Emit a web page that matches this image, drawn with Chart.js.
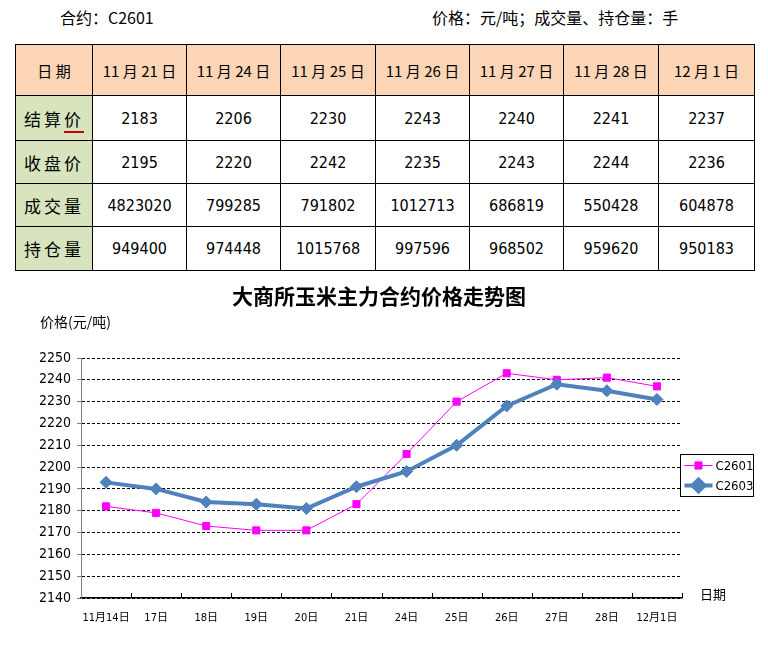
<!DOCTYPE html>
<html>
<head>
<meta charset="utf-8">
<script src="https://cdn.jsdelivr.net/npm/chart.js@4/dist/chart.umd.min.js"></script>
<style>
  html, body { margin: 0; padding: 0; background: #fff; }
  body { width: 768px; height: 652px; position: relative; overflow: hidden;
         font-family: "Liberation Sans Narrow", "DejaVu Sans Condensed", "Noto Sans CJK SC", sans-serif; color: #000; }
  .top { position: absolute; top: 5px; font-size: 16px; font-family: "Noto Sans CJK SC", sans-serif; white-space: nowrap; }
  table { position: absolute; left: 15px; top: 44px; border-collapse: collapse; table-layout: fixed; width: 739px; }
  td { border: 1px solid #000; text-align: center; padding: 0; font-size: 16px; white-space: nowrap; }
  tr.head td { background: #FBD5B5; font-family: "Noto Sans CJK SC", sans-serif; font-size: 15px; }
  td.lab { background: #D7E4BD; font-family: "Noto Sans CJK SC", sans-serif; font-size: 17px; letter-spacing: 3px; }
  .red { border-bottom: 2px solid #d00000; }
  #wrap { position: absolute; left: 0; top: 280px; width: 768px; height: 372px; }
</style>
</head>
<body>
<div class="top" style="left:60px;">合约：C2601</div>
<div class="top" style="left:432px;">价格：元/吨；成交量、持仓量：手</div>
<table id="tbl"></table>
<div id="wrap"><canvas id="c" width="768" height="372"></canvas></div>
<script>
// ---- table data ----
const tableDates = ['11月21日', '11月24日', '11月25日', '11月26日', '11月27日', '11月28日', '12月1日'];
const settlePrice = [2183, 2206, 2230, 2243, 2240, 2241, 2237];
const closePrice = [2195, 2220, 2242, 2235, 2243, 2244, 2236];
const volume = [4823020, 799285, 791802, 1012713, 686819, 550428, 604878];
const openInterest = [949400, 974448, 1015768, 997596, 968502, 959620, 950183];

// ---- chart data ----
const chartLabels = ['11月14日', '17日', '18日', '19日', '20日', '21日', '24日', '25日', '26日', '27日', '28日', '12月1日'];
const c2601 = [2182, 2179, 2173, 2171, 2171, 2183, 2206, 2230, 2243, 2240, 2241, 2237];
const c2603 = [2193, 2190, 2184, 2183, 2181, 2191, 2198, 2210, 2228, 2238, 2235, 2231];
const yMin = 2140, yMax = 2250, yStep = 10;

// build table
(function () {
  const tbl = document.getElementById('tbl');
  const widths = [77, 94, 94, 95, 94, 94, 95, 96];
  const cg = document.createElement('colgroup');
  widths.forEach(w => { const c = document.createElement('col'); c.style.width = w + 'px'; cg.appendChild(c); });
  tbl.appendChild(cg);
  const spaced = s => s.replace(/(\d+)月(\d+)日/, '$1 月 $2 日');
  const rows = [
    { label: '日 期', vals: tableDates.map(spaced), h: 51, head: true },
    { label: '结算<span class="red">价</span>', vals: settlePrice, h: 45 },
    { label: '收盘价', vals: closePrice, h: 43 },
    { label: '成交量', vals: volume, h: 43 },
    { label: '持仓量', vals: openInterest, h: 44 }
  ];
  rows.forEach(r => {
    const tr = document.createElement('tr');
    tr.style.height = r.h + 'px';
    if (r.head) tr.className = 'head';
    const td0 = document.createElement('td');
    td0.innerHTML = r.label;
    if (!r.head) td0.className = 'lab';
    tr.appendChild(td0);
    r.vals.forEach(v => { const td = document.createElement('td'); td.textContent = v; tr.appendChild(td); });
    tbl.appendChild(tr);
  });
})();

const cjk = '"Noto Sans CJK SC", sans-serif';
const narrow = '"Liberation Sans Narrow", "DejaVu Sans Condensed", "Noto Sans CJK SC", sans-serif';

const extras = {
  id: 'extras',
  afterDraw(chart) {
    const ctx = chart.ctx, a = chart.chartArea, x = chart.scales.x;
    ctx.save();
    // inward ticks on x axis at category boundaries
    const half = (x.getPixelForValue(1) - x.getPixelForValue(0)) / 2;
    ctx.strokeStyle = '#000'; ctx.lineWidth = 1;
    ctx.beginPath();
    for (let i = 0; i < chartLabels.length; i++) {
      const px = Math.round(x.getPixelForValue(i) + half) + 0.5;
      ctx.moveTo(px, a.bottom); ctx.lineTo(px, a.bottom - 5);
    }
    ctx.stroke();
    // title
    ctx.fillStyle = '#000';
    ctx.textAlign = 'center'; ctx.textBaseline = 'middle';
    ctx.font = 'bold 21px ' + cjk;
    ctx.fillText('大商所玉米主力合约价格走势图', 379, 16);
    ctx.textAlign = 'left';
    ctx.font = '14px ' + cjk;
    ctx.fillText('价格(元/吨)', 40, 42);
    ctx.font = '13px ' + cjk;
    ctx.fillText('日期', 700, 314);
    // legend
    const lx = 680.5, ly = 174.5, lw = 73, lh = 42;
    ctx.fillStyle = '#fff'; ctx.fillRect(lx, ly, lw, lh);
    ctx.strokeStyle = '#000'; ctx.lineWidth = 1; ctx.strokeRect(lx, ly, lw, lh);
    chart.data.datasets.forEach((ds, i) => {
      const cy = ly + 11 + i * 20;
      ctx.strokeStyle = ds.borderColor; ctx.lineWidth = ds.borderWidth;
      ctx.beginPath(); ctx.moveTo(lx + 4, cy); ctx.lineTo(lx + 32, cy); ctx.stroke();
      Chart.helpers.drawPoint(ctx, { pointStyle: ds.pointStyle, radius: ds.pointRadius, borderWidth: 1, rotation: 0 }, lx + 18, cy);
      ctx.fillStyle = ds.pointBackgroundColor;
      ctx.fill();
      ctx.fillStyle = '#000';
      ctx.font = '13px ' + narrow;
      ctx.textAlign = 'left'; ctx.textBaseline = 'middle';
      ctx.fillText(ds.label, lx + 35, cy + 1);
    });
    ctx.restore();
  }
};

new Chart(document.getElementById('c'), {
  type: 'line',
  data: {
    labels: chartLabels,
    datasets: [
      { label: 'C2601', data: c2601, borderColor: '#FF00FF', backgroundColor: '#FF00FF',
        pointBackgroundColor: '#FF00FF', pointBorderColor: '#FF00FF', borderWidth: 1,
        pointStyle: 'rect', pointRadius: 5, pointBorderWidth: 1, tension: 0, order: 1 },
      { label: 'C2603', data: c2603, borderColor: '#4F81BD', backgroundColor: '#4F81BD',
        pointBackgroundColor: '#4F81BD', pointBorderColor: '#4F81BD', borderWidth: 4,
        pointStyle: 'rectRot', pointRadius: 6, pointBorderWidth: 1, tension: 0, order: 0 }
    ]
  },
  options: {
    responsive: false,
    animation: false,
    events: [],
    layout: { padding: { left: 0, right: 86, top: 78, bottom: 24 } },
    plugins: { legend: { display: false }, title: { display: false }, tooltip: { enabled: false } },
    scales: {
      x: {
        offset: true,
        grid: { display: false, drawOnChartArea: false },
        border: { display: true, color: '#000', width: 1.5 },
        ticks: { color: '#000', font: { family: narrow, size: 11 }, padding: 6, maxRotation: 0, autoSkip: false },
        afterFit(s) { s.height = 30; }
      },
      y: {
        min: yMin, max: yMax,
        grid: { color: '#000', lineWidth: 1, tickLength: 4, tickColor: '#808080', drawOnChartArea: true },
        border: { display: true, color: '#808080', width: 1, dash: [3, 2] },
        ticks: { stepSize: yStep, color: '#000', font: { family: narrow, size: 14 }, padding: 6,
                 callback: v => String(v) },
        afterFit(s) { s.width = 81; }
      }
    }
  },
  plugins: [extras]
});
</script>
</body>
</html>
